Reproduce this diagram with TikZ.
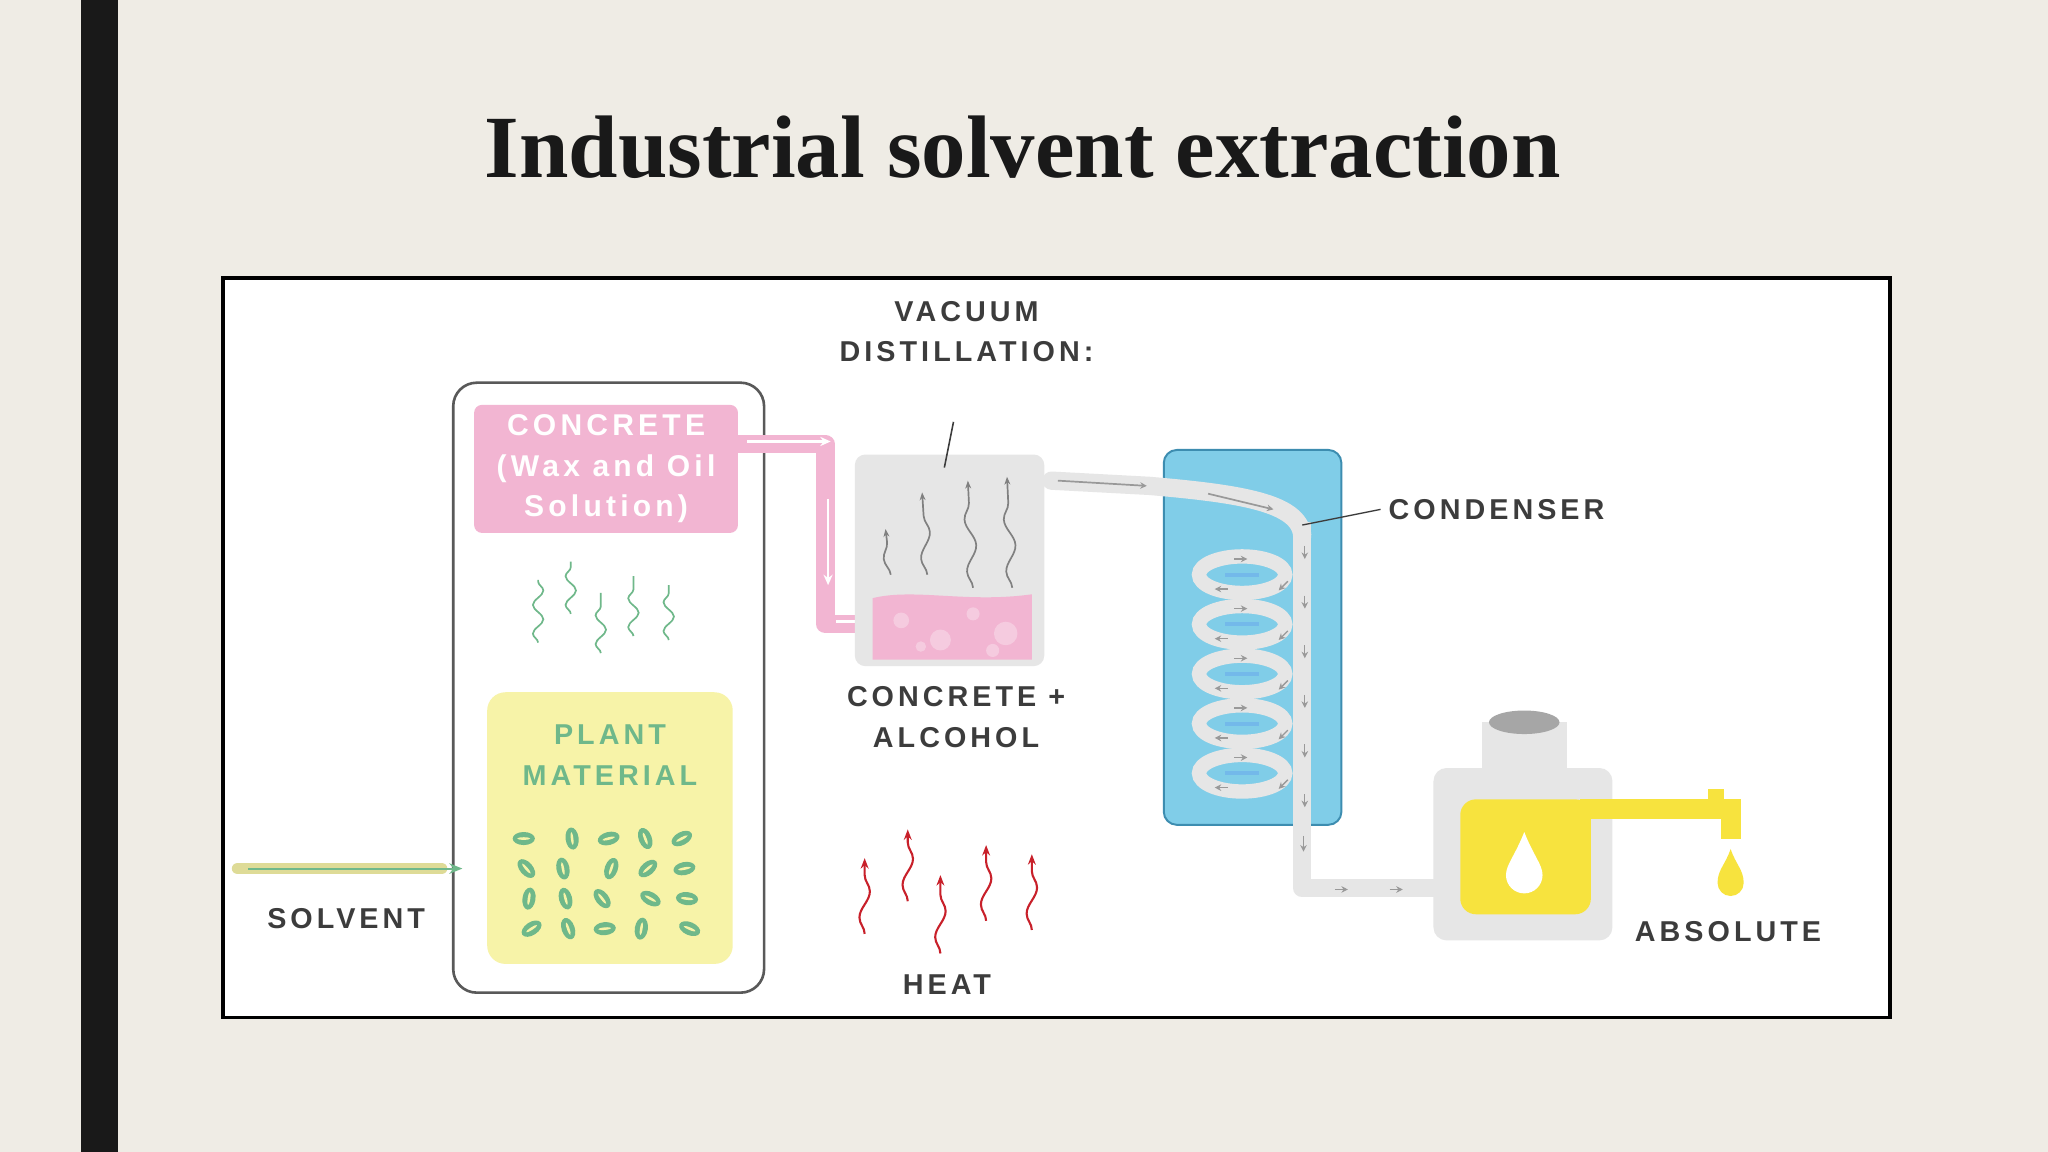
\documentclass[tikz,border=0pt]{standalone}
\usepackage{fontspec}
\setmainfont{Liberation Serif}
\newfontfamily\lab[LetterSpace=14]{Liberation Sans}
\usetikzlibrary{arrows.meta,decorations.pathmorphing}
\definecolor{bg}{HTML}{EFECE5}
\definecolor{pinkc}{HTML}{F2B5D2}
\definecolor{yel}{HTML}{F7F3A8}
\definecolor{leafg}{HTML}{6FB88A}
\definecolor{grayb}{HTML}{E6E6E6}
\definecolor{blu}{HTML}{80CDE8}
\definecolor{blud}{HTML}{3D8DB0}
\definecolor{yol}{HTML}{F7E33E}
\definecolor{txt}{HTML}{3C3C3C}
\definecolor{heat}{HTML}{C8202A}
\tikzset{
 lbl/.style={font=\lab\bfseries\fontsize{22}{31}\selectfont,text=txt,align=center,inner sep=0},
 squig/.style={decorate,decoration={snake,amplitude=4,segment length=22},line width=1.6},
 pipeg/.style={line width=14,color=grayb,line cap=round,line join=round},
 tinyarr/.style={-{Stealth[length=5,width=5]},line width=1,color=gray!80},
}
\begin{document}
\begin{tikzpicture}[x=1pt,y=-1pt]
\fill[bg] (0,0) rectangle (1568,882);
\useasboundingbox (0,0) rectangle (1568,882);
\fill[black!90] (62,0) rectangle (90,882);
\node[font=\bfseries\fontsize{68}{72}\selectfont,text=black!90] (title) at (783,113) {Industrial solvent extraction};
\draw[line width=3,fill=white] (171,213) rectangle (1447,779);
% left vessel
\draw[line width=2,draw=gray!70!black,rounded corners=18] (347,293) rectangle (585,760);
% pink pipe
\draw[pinkc,line width=14,line join=round] (560,340) -- (632,340) -- (632,478) -- (675,478);
\draw[white,line width=2,-{Stealth[length=8,width=7]}] (572,338) -- (636,338);
\draw[white,line width=2,-{Stealth[length=8,width=7]}] (634,382) -- (634,448);
\draw[white,line width=2,-{Stealth[length=8,width=7]}] (640,476) -- (683,476);
\node[fill=pinkc,rounded corners=6,minimum width=202,minimum height=98,inner sep=0,font=\lab\fontsize{23}{31}\selectfont\bfseries,text=white,align=center] (conc) at (464,359) {CONCRETE\\(Wax and Oil\\Solution)};
% green squiggles
\foreach \x/\y/\l in {412/492/-48,437/470/-40,460/500/-46,485/487/-46,512/490/-42}
  \draw[leafg,squig,line width=1.3] (\x,\y) -- ++(0,\l);
% plant material
\node[fill=yel,rounded corners=14,minimum width=188,minimum height=208,inner sep=0] (plant) at (467,634) {};
\node[lbl,text=leafg] (pm) at (467,578) {PLANT\\MATERIAL};
\foreach \i in {0,...,4} \foreach \j in {0,...,3}{
  \pgfmathsetmacro{\ang}{mod(\i*97+\j*131+\i*\j*53,180)}
  \pgfmathsetmacro{\dx}{mod(\i*7+\j*11,9)-4}
  \fill[leafg,rotate around={\ang:(405+\i*30+\dx,642+\j*23)}] (405+\i*30+\dx,642+\j*23) ellipse (8.5 and 5);
  \fill[yel,rotate around={\ang:(405+\i*30+\dx,642+\j*23)}] (405+\i*30+\dx,642+\j*23) ellipse (5 and 1);
}
% solvent
\coordinate (s0) at (182,665);
\coordinate (s1) at (354,665);
\draw[yel!90!black,line width=9,line cap=round] (s0) -- (338,665);
\draw[leafg,line width=1.6,-{Stealth[length=10,width=8]}] (190,665) -- (s1);
\node[lbl] (solv) at (265,703) {SOLVENT};
% distillation
\node[fill=grayb,rounded corners=8,minimum width=145,minimum height=162,inner sep=0] (dist) at (727,429) {};
\fill[pinkc] (668,458) .. controls (700,450) and (740,462) .. (790,455) -- (790,505) -- (668,505) -- cycle;
\foreach \x/\y/\r in {690/475/6,720/490/8,745/470/5,770/485/9,705/495/4,760/498/5}
  \fill[white,opacity=0.3] (\x,\y) circle (\r);
\foreach \x/\y/\l in {682/440/35,710/440/63,745/450/82,775/450/85}
  \draw[gray,line width=1.3,-{Stealth[length=6]},decorate,decoration={snake,amplitude=4,segment length=40,post length=6}] (\x,\y) -- ++(-4,-\l);
\coordinate (vt) at (730,323);
\draw[txt,line width=1.2] (vt) -- (723,358);
\node[lbl] (vac) at (740,254) {VACUUM\\DISTILLATION:};
\node[lbl] (ca) at (732,549) {CONCRETE +\\ALCOHOL};
% heat
\foreach \x/\y/\l in {662/715/58,695/690/55,720/730/60,755/705/58,790/712/58}
  \draw[heat,line width=1.6,-{Stealth[length=8]},decorate,decoration={snake,amplitude=4,segment length=40,post length=8}] (\x,\y) -- ++(0,-\l);
\node[lbl] (heatl) at (725,754) {HEAT};
% condenser
\node[fill=blu,draw=blud,line width=1.5,rounded corners=10,minimum width=136,minimum height=287,inner sep=0] (cond) at (959,488) {};
\draw[pipeg] (805,368) -- (880,372) .. controls (950,378) and (995,385) .. (997,410);
\foreach \k in {0,...,4}{
  \pgfmathsetmacro{\yy}{440+\k*38}
  \draw[grayb,line width=11] (951,\yy) ellipse (33 and 14);
  \draw[blu!90!blue,line width=3] (938,\yy) -- (964,\yy);
  \draw[tinyarr] (945,\yy-12) -- (955,\yy-12);
  \draw[tinyarr] (940,\yy+11) -- (930,\yy+11);
  \draw[tinyarr] (986,\yy+5) -- (979,\yy+12);
}
\draw[pipeg,line cap=butt] (997,400) -- (997,680) -- (1105,680);
\foreach \k in {0,...,5} \draw[tinyarr] (999,418+\k*38) -- (999,428+\k*38);
\draw[tinyarr] (998,640) -- (998,652);
\draw[tinyarr] (1022,681) -- (1032,681);
\draw[tinyarr] (1064,681) -- (1074,681);
\draw[tinyarr,line width=1.3] (810,368) -- (878,372);
\draw[tinyarr,line width=1.3] (925,378) -- (975,390);
\coordinate (ct) at (997,402);
\node[lbl,anchor=west] (condl) at (1063,390) {CONDENSER};
\draw[txt,line width=1] (ct) -- (1057,390);
% bottle
\fill[grayb] (1135,553) rectangle (1200,595);
\fill[gray!70] (1167,553) ellipse (27 and 9);
\node[fill=grayb,rounded corners=10,minimum width=137,minimum height=132,inner sep=0] (bottle) at (1166,654) {};
\node[fill=yol,rounded corners=12,minimum width=100,minimum height=88,inner sep=0] (oil) at (1168,656) {};
\fill[yol] (1210,612) rectangle (1332,627);
\fill[yol] (1308,604) rectangle (1320,612);
\fill[yol] (1318,612) rectangle (1333,642);
\fill[white] (1167,637) .. controls (1160,655) and (1153,662) .. (1153,670) arc (180:0:14) .. controls (1181,662) and (1174,655) .. (1167,637);
\fill[yol] (1325,650) .. controls (1321,662) and (1315,666) .. (1315,676) arc (180:0:10) .. controls (1335,666) and (1329,662) .. (1325,650);
\node[lbl] (absl) at (1323,713) {ABSOLUTE};
\end{tikzpicture}
\end{document}
